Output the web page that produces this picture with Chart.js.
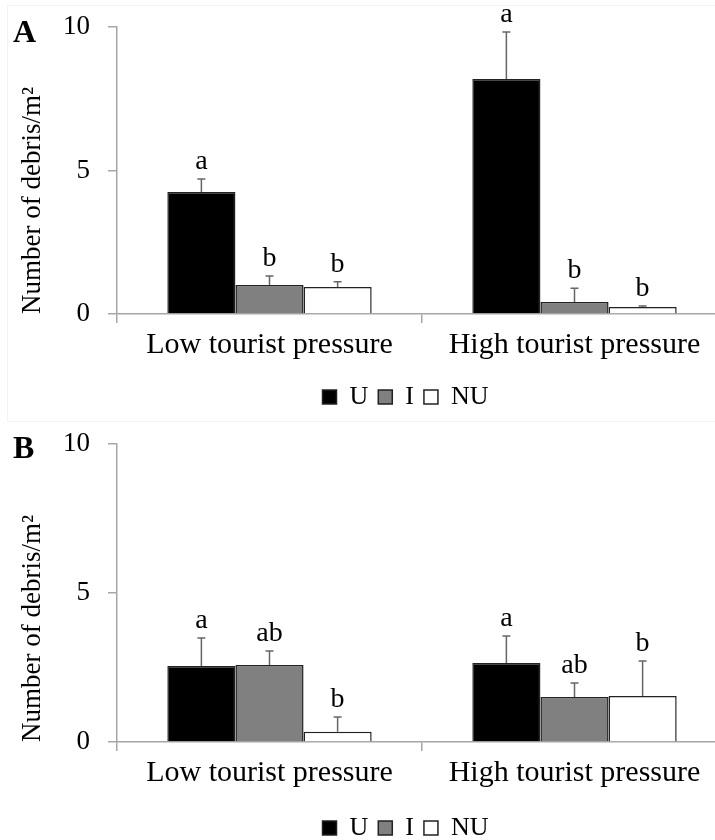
<!DOCTYPE html>
<html>
<head>
<meta charset="utf-8">
<script src="https://cdn.jsdelivr.net/npm/chart.js@4.4.0/dist/chart.umd.min.js"></script>
<style>
  html, body { margin: 0; padding: 0; background: #fff; overflow: hidden; }
  #page { position: relative; width: 715px; height: 840px; overflow: hidden; }
  .panel { position: absolute; left: 0; }
  #wrapA { top: 0; }
  #wrapB { top: 420px; }
  .frame { position: absolute; left: 7px; top: 5px; width: 720px; height: 415px; border: 1px solid #f3f3f3; }
</style>
</head>
<body>
<div id="page">
  <div class="frame"></div>
  <div class="panel" id="wrapA"><canvas id="chartA" width="727" height="420"></canvas></div>
  <div class="panel" id="wrapB"><canvas id="chartB" width="727" height="440"></canvas></div>
</div>
<script>
// Data
const groups = ['Low tourist pressure', 'High tourist pressure'];
const seriesNames = ['U', 'I', 'NU'];
const seriesColors = ['#000000', '#808080', '#ffffff'];

// Panel A
const aU = [4.25, 8.19];
const aI = [1.01, 0.42];
const aNU = [0.94, 0.24];
const aUErr = [0.45, 1.64];
const aIErr = [0.31, 0.48];
const aNUErr = [0.18, 0.04];
const aULetters = ['a', 'a'];
const aILetters = ['b', 'b'];
const aNULetters = ['b', 'b'];

// Panel B
const bU = [2.55, 2.65];
const bI = [2.58, 1.51];
const bNU = [0.34, 1.54];
const bUErr = [0.94, 0.91];
const bIErr = [0.47, 0.47];
const bNUErr = [0.50, 1.18];
const bULetters = ['a', 'a'];
const bILetters = ['ab', 'ab'];
const bNULetters = ['b', 'b'];

const yTicks = [0, 5, 10];

const serif = "'Liberation Serif', 'Times New Roman', serif";
const axisGrey = '#a6a6a6';
Chart.defaults.font.family = serif;
Chart.defaults.color = '#000';

// upper error bars with significance letters
const errorBarPlugin = {
    id: 'errorBars',
    afterDatasetsDraw(chart) {
        const ctx = chart.ctx;
        const yScale = chart.scales.y;
        chart.data.datasets.forEach((ds, i) => {
            const meta = chart.getDatasetMeta(i);
            meta.data.forEach((bar, j) => {
                const yErr = yScale.getPixelForValue(ds.data[j] + ds.errors[j]);
                ctx.save();
                ctx.strokeStyle = '#666';
                ctx.lineWidth = 1.5;
                ctx.beginPath();
                ctx.moveTo(bar.x, bar.y);
                ctx.lineTo(bar.x, yErr);
                ctx.moveTo(bar.x - 4, yErr);
                ctx.lineTo(bar.x + 4, yErr);
                ctx.stroke();
                ctx.fillStyle = '#000';
                ctx.font = '28px ' + serif;
                ctx.textAlign = 'center';
                ctx.textBaseline = 'alphabetic';
                ctx.fillText(ds.letters[j], bar.x, yErr - 10);
                ctx.restore();
            });
        });
    }
};

// panel letter (A / B) and legend nudge
const panelPlugin = {
    id: 'panelLabel',
    afterLayout(chart) {
        const dx = chart.options.plugins.panelLabel.legendShift || 0;
        chart.legend.left += dx;
        chart.legend.right += dx;
    },
    afterDraw(chart, args, opts) {
        const ctx = chart.ctx;
        ctx.save();
        ctx.fillStyle = '#000';
        ctx.font = 'bold 32px ' + serif;
        ctx.textBaseline = 'alphabetic';
        ctx.fillText(opts.text, 13, opts.baseline);
        ctx.restore();
    }
};

function makeDatasets(values, errors, letters) {
    return seriesNames.map((name, i) => ({
        label: name,
        data: values[i],
        errors: errors[i],
        letters: letters[i],
        backgroundColor: seriesColors[i],
        borderColor: '#222',
        borderWidth: 1.5,
        categoryPercentage: 0.67,
        barPercentage: 1.0
    }));
}

function buildChart(canvasId, datasets, opts) {
    return new Chart(document.getElementById(canvasId), {
        type: 'bar',
        data: { labels: groups, datasets: datasets },
        plugins: [errorBarPlugin, panelPlugin],
        options: {
            responsive: false,
            animation: false,
            layout: { padding: { top: opts.top, bottom: opts.bottom, left: 0, right: 0 } },
            scales: {
                x: {
                    grid: { offset: true, drawOnChartArea: false, tickLength: 9, color: axisGrey, lineWidth: 1.5 },
                    border: { color: axisGrey, width: 1.5 },
                    ticks: { font: { size: 30 }, padding: 4, color: '#000' },
                    afterFit: scale => { scale.height = opts.xHeight; }
                },
                y: {
                    min: 0,
                    max: 10,
                    afterBuildTicks: scale => { scale.ticks = yTicks.map(v => ({ value: v })); },
                    grid: { drawOnChartArea: false, tickLength: 9, color: axisGrey, lineWidth: 1.5 },
                    border: { color: axisGrey, width: 1.5 },
                    ticks: { font: { size: 27 }, padding: 18, color: '#000' },
                    title: {
                        display: true,
                        text: 'Number of debris/m²',
                        align: 'start',
                        font: { size: 27 },
                        color: '#000',
                        padding: { top: 17, bottom: 0 }
                    },
                    afterFit: scale => {
                        scale.width = 117;
                        scale.paddingTop = 0;
                        scale.paddingBottom = 0;
                    }
                }
            },
            plugins: {
                legend: {
                    position: 'bottom',
                    labels: {
                        boxWidth: 14,
                        boxHeight: 14,
                        padding: 10,
                        font: { size: 26 },
                        color: '#000'
                    }
                },
                tooltip: { enabled: false },
                panelLabel: { text: opts.panel, baseline: opts.panelBaseline, legendShift: 42 }
            }
        }
    });
}

buildChart('chartA',
    makeDatasets([aU, aI, aNU], [aUErr, aIErr, aNUErr], [aULetters, aILetters, aNULetters]),
    { top: 27, bottom: 0, xHeight: 60, panel: 'A', panelBaseline: 42 });

buildChart('chartB',
    makeDatasets([bU, bI, bNU], [bUErr, bIErr, bNUErr], [bULetters, bILetters, bNULetters]),
    { top: 24, bottom: 9, xHeight: 63, panel: 'B', panelBaseline: 38 });
</script>
</body>
</html>
